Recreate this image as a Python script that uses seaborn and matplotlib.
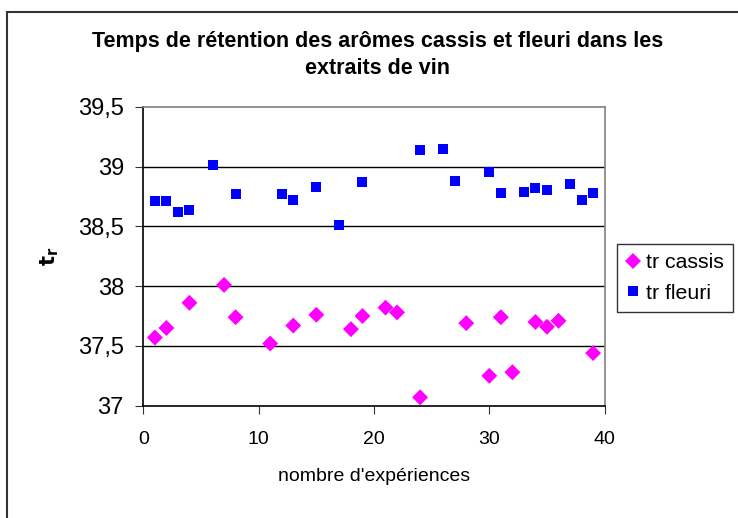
import numpy as np
import pandas as pd
import matplotlib
matplotlib.use('Agg')
import matplotlib.pyplot as plt
import seaborn as sns
from matplotlib.patches import Rectangle
from matplotlib.ticker import FuncFormatter

# data
cassis_x = [1, 2, 4, 7, 8, 11, 13, 15, 18, 19, 21, 22, 24, 28, 30, 31, 32, 34, 35, 36, 39]
cassis_y = [37.57, 37.65, 37.86, 38.01, 37.74, 37.52, 37.67, 37.76, 37.64, 37.75, 37.82,
            37.78, 37.07, 37.69, 37.25, 37.74, 37.28, 37.70, 37.66, 37.71, 37.44]
fleuri_x = [1, 2, 3, 4, 6, 8, 12, 13, 15, 17, 19, 24, 26, 27, 30, 31, 33, 34, 35, 37, 38, 39]
fleuri_y = [38.71, 38.71, 38.62, 38.64, 39.01, 38.77, 38.77, 38.72, 38.83, 38.51, 38.87,
            39.14, 39.15, 38.88, 38.95, 38.78, 38.79, 38.82, 38.80, 38.85, 38.72, 38.78]
y_ticks = [37, 37.5, 38, 38.5, 39, 39.5]
x_ticks = [0, 10, 20, 30, 40]

df = pd.concat([
    pd.DataFrame({'x': cassis_x, 'y': cassis_y, 'serie': 'tr cassis'}),
    pd.DataFrame({'x': fleuri_x, 'y': fleuri_y, 'serie': 'tr fleuri'}),
])

sns.set_style('white')
plt.rcParams['font.family'] = ['Liberation Sans', 'DejaVu Sans']
plt.rcParams['text.color'] = 'black'
plt.rcParams['axes.labelcolor'] = 'black'
plt.rcParams['xtick.color'] = 'black'
plt.rcParams['ytick.color'] = 'black'

fig = plt.figure(figsize=(7.38, 5.18), dpi=100)
ax = fig.add_axes([0.1942, 0.2168, 0.6251, 0.5772])

sns.scatterplot(data=df, x='x', y='y', hue='serie', style='serie',
                palette={'tr cassis': '#FF00FF', 'tr fleuri': '#0000FF'},
                markers={'tr cassis': 'D', 'tr fleuri': 's'},
                size='serie', sizes={'tr cassis': 66, 'tr fleuri': 52},
                linewidth=0, ax=ax, zorder=3, legend=False)

ax.set_xlim(0, 40)
ax.set_ylim(37, 39.5)
ax.set_xticks(x_ticks)
ax.set_yticks(y_ticks)
ax.yaxis.set_major_formatter(FuncFormatter(lambda v, p: ('%g' % v).replace('.', ',')))
ax.tick_params(axis='y', labelsize=17, length=5.5, direction='out', left=True, color='#333333', pad=8.5)
ax.tick_params(axis='x', labelsize=14, length=5.5, direction='out', bottom=True, color='#333333', pad=13)

for yv in y_ticks[1:-1]:
    ax.axhline(yv, color='black', lw=1, zorder=1)

ax.spines['left'].set_color('black')
ax.spines['bottom'].set_color('black')
ax.spines['top'].set_color('#808080')
ax.spines['right'].set_color('#808080')
for s in ax.spines.values():
    s.set_linewidth(1.2)

ax.set_xlabel("nombre d'expériences", fontsize=14, labelpad=14)
ax.set_ylabel(r'$\mathbf{t}_\mathbf{r}$', fontsize=15, labelpad=12)

fig.text(0.5115, 0.894, 'Temps de rétention des arômes cassis et fleuri dans les\nextraits de vin',
         ha='center', va='center', fontsize=15.5, fontweight='bold', linespacing=1.42)

# legend
h1 = plt.Line2D([], [], marker='D', color='#FF00FF', ls='', markersize=8.5, markeredgewidth=0)
h2 = plt.Line2D([], [], marker='s', color='#0000FF', ls='', markersize=6.5, markeredgewidth=0)
leg = fig.legend([h1, h2], ['tr cassis', 'tr fleuri'], loc='center left',
                 bbox_to_anchor=(0.836, 0.4635), fontsize=15.3, frameon=True, fancybox=False,
                 edgecolor='black', handlelength=0.6, handletextpad=0.3, borderpad=0.45,
                 labelspacing=0.55, borderaxespad=0)
leg.get_frame().set_linewidth(1)

# outer chart border (cut off at right and bottom)
fig.patches.append(Rectangle((7 / 738, -0.1), 1.2, 1 - 12 / 518 + 0.1, transform=fig.transFigure,
                             fill=False, edgecolor='#333333', lw=1.5))

fig.savefig('out.png', dpi=100)
